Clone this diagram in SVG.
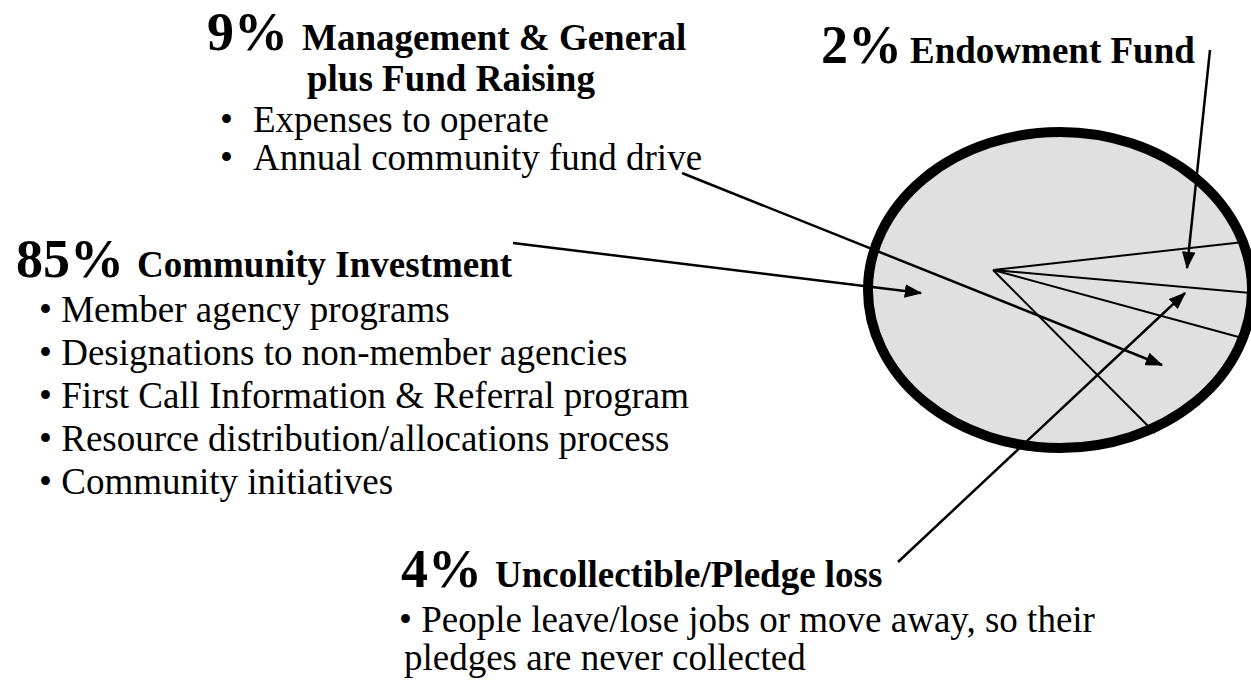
<svg xmlns="http://www.w3.org/2000/svg" width="1251" height="685" viewBox="0 0 1251 685">
<style>
  text { font-family: "Liberation Serif", "Times New Roman", serif; fill: #000; }
  .pct { font-size: 54px; font-weight: bold; }
  .lbl { font-size: 37px; font-weight: bold; }
  .body { font-size: 37px; }
  .pie { stroke: #000; stroke-width: 2; fill: none; }
  .conn { stroke: #000; stroke-width: 2.5; fill: none; marker-end: url(#ah); }
</style>
<defs>
  <marker id="ah" markerWidth="7" markerHeight="5.4" refX="6.5" refY="2.7" orient="auto" markerUnits="strokeWidth">
    <path d="M0,0 L7,2.7 L0,5.4 Z" fill="#000"/>
  </marker>
</defs>
<rect width="1251" height="685" fill="#fff"/>

<g id="pie">
  <ellipse cx="1060" cy="290" rx="192" ry="158" fill="#e0e0e0"/>
  <line class="pie" x1="993" y1="270" x2="1244" y2="242"/>
  <line class="pie" x1="993" y1="270" x2="1251" y2="293"/>
  <line class="pie" x1="993" y1="270" x2="1246" y2="339"/>
  <line class="pie" x1="993" y1="270" x2="1155" y2="433"/>
</g>

<g id="mgmt">
  <text class="pct" x="207" y="50">9%</text>
  <text class="lbl" x="302" y="50">Management &amp; General</text>
  <text class="lbl" x="307" y="91">plus Fund Raising</text>
  <text class="body" x="220" y="132">•</text>
  <text class="body" x="253" y="132">Expenses to operate</text>
  <text class="body" x="220" y="170">•</text>
  <text class="body" x="253" y="170">Annual community fund drive</text>
</g>

<g id="endow">
  <text class="pct" x="821" y="63">2%</text>
  <text class="lbl" x="910" y="63">Endowment Fund</text>
</g>

<g id="community">
  <text class="pct" x="16" y="277">85%</text>
  <text class="lbl" x="137" y="277">Community Investment</text>
  <text class="body" x="39" y="322">• Member agency programs</text>
  <text class="body" x="39" y="365">• Designations to non-member agencies</text>
  <text class="body" x="39" y="408">• First Call Information &amp; Referral program</text>
  <text class="body" x="39" y="451">• Resource distribution/allocations process</text>
  <text class="body" x="39" y="494">• Community initiatives</text>
</g>

<g id="uncollect">
  <text class="pct" x="401" y="587">4%</text>
  <text class="lbl" x="495" y="587">Uncollectible/Pledge loss</text>
  <text class="body" x="399" y="632">• People leave/lose jobs or move away, so their</text>
  <text class="body" x="404" y="670">pledges are never collected</text>
</g>

<g id="connectors">
  <line class="conn" x1="1210" y1="50" x2="1187" y2="268"/>
  <line class="conn" x1="513" y1="243" x2="921" y2="293"/>
  <line class="conn" x1="682" y1="173" x2="1162" y2="365"/>
  <line class="conn" x1="898" y1="562" x2="1185" y2="293"/>
</g>

<ellipse id="pie-rim" cx="1060" cy="290" rx="192" ry="158" fill="none" stroke="#000" stroke-width="10"/>
</svg>
